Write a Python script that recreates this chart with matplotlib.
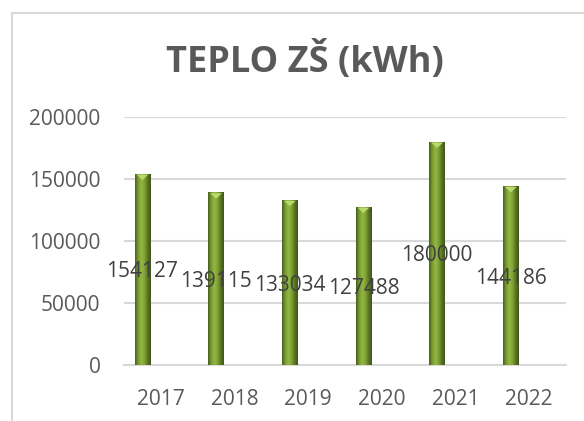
import numpy as np
import matplotlib.pyplot as plt
from matplotlib.colors import LinearSegmentedColormap
from matplotlib.patches import Polygon
import matplotlib.lines as mlines

years = ['2017', '2018', '2019', '2020', '2021', '2022']
teplo = [154127, 139115, 133034, 127488, 180000, 144186]
title = 'TEPLO ZŠ (kWh)'

plt.rcParams['font.family'] = ['Open Sans', 'DejaVu Sans']

fig = plt.figure(figsize=(5.84, 4.21), dpi=100)
ax = fig.add_axes([124 / 584, 1 - 365 / 421, 442 / 584, 248 / 421])

x = np.arange(len(years))
shift = -0.25
width = 0.21
bars = ax.bar(x + shift, teplo, width=width, color='#77933C', zorder=3)

# cylinder shading
cyl = LinearSegmentedColormap.from_list('cyl', ['#46601C', '#789A32', '#93B842', '#80A236', '#587522', '#40561A'])
grad = np.linspace(0, 1, 64).reshape(1, -1)
for b in bars:
    x0, w, h = b.get_x(), b.get_width(), b.get_height()
    im = ax.imshow(grad, cmap=cyl, aspect='auto', extent=[x0, x0 + w, 0, h], zorder=4)
    im.set_clip_path(b)
    tip = Polygon([[x0 + w * 0.12, h - 600], [x0 + w * 0.88, h - 600], [x0 + w * 0.5, h - 5000]],
                  closed=True, facecolor='#B9D86E', edgecolor='none', zorder=5)
    ax.add_patch(tip)

for b, v in zip(bars, teplo):
    ax.text(b.get_x() + b.get_width() / 2, v / 2, str(v), ha='center', va='center_baseline',
            fontsize=15, color='#404040', zorder=6)

ax.set_xlim(-0.5, len(years) - 0.5)
ax.set_ylim(0, 200000)
ax.set_yticks(np.arange(0, 200001, 50000))
ax.set_xticks(x)
ax.set_xticklabels(years)
ax.yaxis.grid(True, color='#D9D9D9', linewidth=1.5, zorder=0)
ax.set_axisbelow(True)
for s in ['top', 'right', 'left']:
    ax.spines[s].set_visible(False)
ax.spines['bottom'].set_color('#D9D9D9')
ax.spines['bottom'].set_linewidth(1.5)
ax.tick_params(axis='both', length=0, labelsize=15, labelcolor='#595959')
ax.tick_params(axis='y', pad=17)
ax.tick_params(axis='x', pad=17)

fig.text(305 / 584, 1 - 72 / 421, title, ha='center', va='baseline', fontsize=26,
         fontweight='bold', color='#595959')

# chart area border (runs off the right and bottom edge)
fig.add_artist(mlines.Line2D([12 / 584, 12 / 584], [0, 1 - 13 / 421], color='#D9D9D9', lw=1.5))
fig.add_artist(mlines.Line2D([12 / 584, 1], [1 - 13 / 421, 1 - 13 / 421], color='#D9D9D9', lw=1.5))

fig.savefig('out.png', dpi=100, facecolor='white')
